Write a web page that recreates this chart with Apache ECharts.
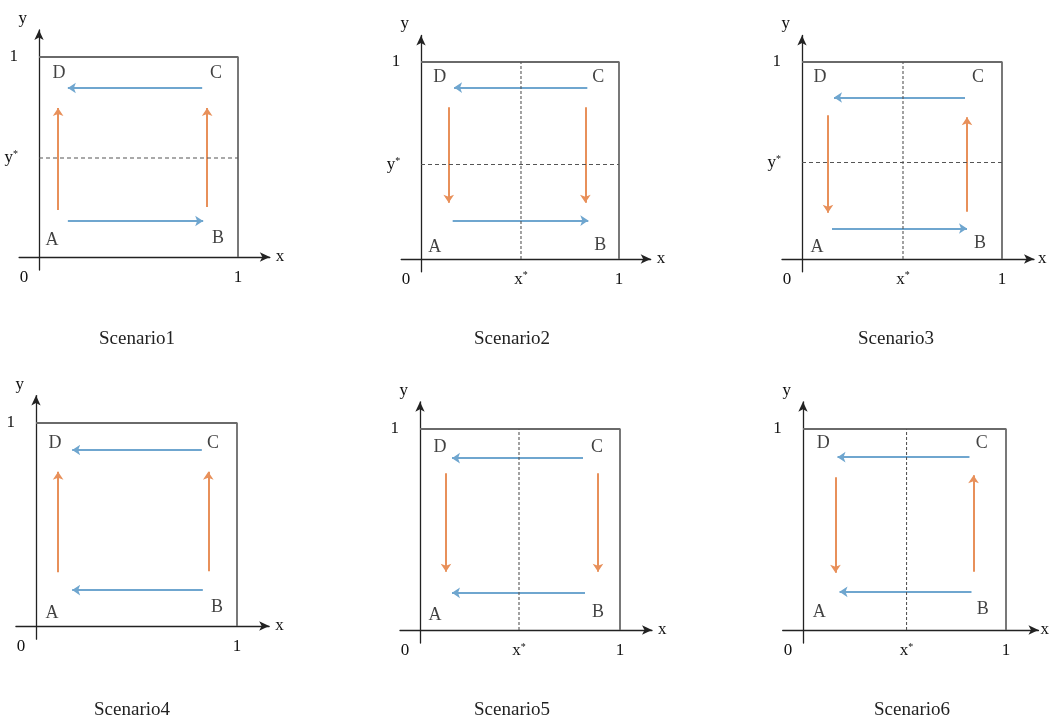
<!DOCTYPE html>
<html><head><meta charset="utf-8">
<script src="https://cdn.jsdelivr.net/npm/echarts@6/dist/echarts.min.js"></script>
<style>html,body{margin:0;padding:0;background:#fff}#c{width:1049px;height:718px}</style>
</head><body><div id="c"></div>
<script>
// ---- data ----
const scenarios = ['Scenario1','Scenario2','Scenario3','Scenario4','Scenario5','Scenario6'];
const xStar = [null, 0.505, 0.505, null, 0.495, 0.51];
const yStar = [0.495, 0.48, 0.49, null, null, null];
// blue horizontal arrows: [xStart, xEnd, y]
const blueTop = [[0.82,0.145,0.845],[0.84,0.167,0.87],[0.815,0.16,0.82],[0.825,0.18,0.867],[0.815,0.16,0.855],[0.82,0.17,0.86]];
const blueBottom = [[0.145,0.825,0.18],[0.16,0.845,0.195],[0.15,0.825,0.155],[0.83,0.18,0.177],[0.825,0.16,0.185],[0.83,0.18,0.19]];
// orange vertical arrows: [x, yStart, yEnd]
const orangeLeft = [[0.096,0.235,0.745],[0.14,0.77,0.285],[0.13,0.73,0.235],[0.11,0.265,0.76],[0.13,0.78,0.29],[0.16,0.76,0.285]];
const orangeRight = [[0.845,0.25,0.745],[0.83,0.77,0.285],[0.825,0.24,0.72],[0.857,0.27,0.76],[0.89,0.78,0.29],[0.84,0.29,0.77]];
// corner labels
const cornerNames = ['A','B','C','D'];
const cornerPos = [
  [[0.065,0.085],[0.9,0.095],[0.89,0.92],[0.1,0.92]],
  [[0.07,0.06],[0.905,0.07],[0.895,0.92],[0.095,0.92]],
  [[0.075,0.06],[0.89,0.08],[0.88,0.92],[0.09,0.92]],
  [[0.08,0.065],[0.9,0.09],[0.88,0.9],[0.095,0.9]],
  [[0.075,0.075],[0.89,0.09],[0.885,0.91],[0.1,0.91]],
  [[0.08,0.09],[0.885,0.105],[0.88,0.93],[0.1,0.93]]
];

// ---- layout (pixel origin & unit per panel) ----
const layout = [
  {ox:39, oy:257, ux:199, uy:200, cx:132, cy:325, ng:6},
  {ox:421, oy:259, ux:198, uy:197, cx:507, cy:325, ng:6},
  {ox:802, oy:259, ux:200, uy:197, cx:891, cy:325, ng:4},
  {ox:36, oy:626, ux:201, uy:203, cx:127, cy:696, ng:6},
  {ox:420, oy:630, ux:200, uy:201, cx:507, cy:696, ng:6},
  {ox:803, oy:630, ux:203, uy:201, cx:907, cy:696, ng:2}
];
const XMIN=-0.1, XMAX=1.16, YMIN=-0.065, YMAX=1.135;
const FONT = 'Liberation Serif';
const TXT = '#111';
const BLUE = '#6fa6cf', ORANGE = '#e8905a';

const rich = {
  b:{fontFamily:FONT,fontSize:17,color:TXT},
  s:{fontFamily:FONT,fontSize:10,color:TXT,verticalAlign:'top',lineHeight:16},
  z:{fontFamily:FONT,fontSize:17,color:TXT,padding:[0,30,0,0]}
};

const grid=[], xAxis=[], yAxis=[], series=[], title=[];
layout.forEach((L,i)=>{
  grid.push({left:L.ox+XMIN*L.ux, top:L.oy-YMAX*L.uy, width:(XMAX-XMIN)*L.ux, height:(YMAX-YMIN)*L.uy,
    containLabel:false, outerBoundsMode:'none'});
  const xs = xStar[i], ys = yStar[i];
  const xVals = xs==null ? [0,1] : [0,xs,1];
  const yVals = ys==null ? [1] : [ys,1];
  xAxis.push({gridIndex:i,type:'value',min:XMIN,max:XMAX,
    name:'x',nameLocation:'end',nameGap:L.ng,nameTextStyle:{fontFamily:FONT,fontSize:17,color:TXT},
    axisLine:{onZero:true,symbol:['none','arrow'],symbolSize:[7,10],lineStyle:{color:'#222',width:1.3}},
    axisTick:{show:false},splitLine:{show:false},
    axisLabel:{customValues:xVals,margin:-1,fontFamily:FONT,fontSize:17,color:TXT,rich:rich,
      formatter:v=> v===0 ? '{z|0}' : (v===1 ? '1' : '{b|x}{s|*}')}
  });
  yAxis.push({gridIndex:i,type:'value',min:YMIN,max:YMAX,
    name:'y',nameLocation:'end',nameGap:3,nameTextStyle:{fontFamily:FONT,fontSize:17,color:TXT,align:'right',padding:[0,12,0,0]},
    axisLine:{onZero:true,symbol:['none','arrow'],symbolSize:[7,10],lineStyle:{color:'#222',width:1.3}},
    axisTick:{show:false},splitLine:{show:false},
    axisLabel:{customValues:yVals,margin:1,fontFamily:FONT,fontSize:17,color:TXT,rich:rich,
      formatter:v=> v===1 ? '1' : '{b|y}{s|*}'}
  });
  // box
  series.push({type:'line',xAxisIndex:i,yAxisIndex:i,data:[[0,1],[1,1],[1,0]],symbol:'none',silent:true,
    lineStyle:{color:'#6a6a6a',width:1.8}});
  if (ys!=null) series.push({type:'line',xAxisIndex:i,yAxisIndex:i,data:[[0,ys],[1,ys]],symbol:'none',
    lineStyle:{color:'#555',width:1.1,type:[4,3]}});
  if (xs!=null) series.push({type:'line',xAxisIndex:i,yAxisIndex:i,data:[[xs,0],[xs,1]],symbol:'none',
    lineStyle:{color:'#555',width:1.1,type:[3,2]}});
  const bt=blueTop[i], bb=blueBottom[i], ol=orangeLeft[i], orr=orangeRight[i];
  series.push({type:'lines',coordinateSystem:'cartesian2d',xAxisIndex:i,yAxisIndex:i,
    symbol:['none','arrow'],symbolSize:8,
    lineStyle:{color:BLUE,width:2,opacity:1},
    data:[{coords:[[bt[0],bt[2]],[bt[1],bt[2]]]},{coords:[[bb[0],bb[2]],[bb[1],bb[2]]]}]});
  series.push({type:'lines',coordinateSystem:'cartesian2d',xAxisIndex:i,yAxisIndex:i,
    symbol:['none','arrow'],symbolSize:8,
    lineStyle:{color:ORANGE,width:2,opacity:1},
    data:[{coords:[[ol[0],ol[1]],[ol[0],ol[2]]]},{coords:[[orr[0],orr[1]],[orr[0],orr[2]]]}]});
  series.push({type:'scatter',xAxisIndex:i,yAxisIndex:i,symbolSize:0,silent:true,
    data:cornerNames.map((n,k)=>({name:n,value:cornerPos[i][k]})),
    label:{show:true,position:'inside',formatter:'{b}',fontFamily:FONT,fontSize:18,color:TXT}});
  title.push({text:scenarios[i],left:L.cx,top:L.cy,textAlign:'center',
    textStyle:{fontFamily:FONT,fontSize:19,fontWeight:'normal',color:'#222'}});
});

const chart = echarts.init(document.getElementById('c'),null,{renderer:'canvas'});
chart.setOption({animation:false,backgroundColor:'#fff',title,grid,xAxis,yAxis,series});
</script></body></html>
